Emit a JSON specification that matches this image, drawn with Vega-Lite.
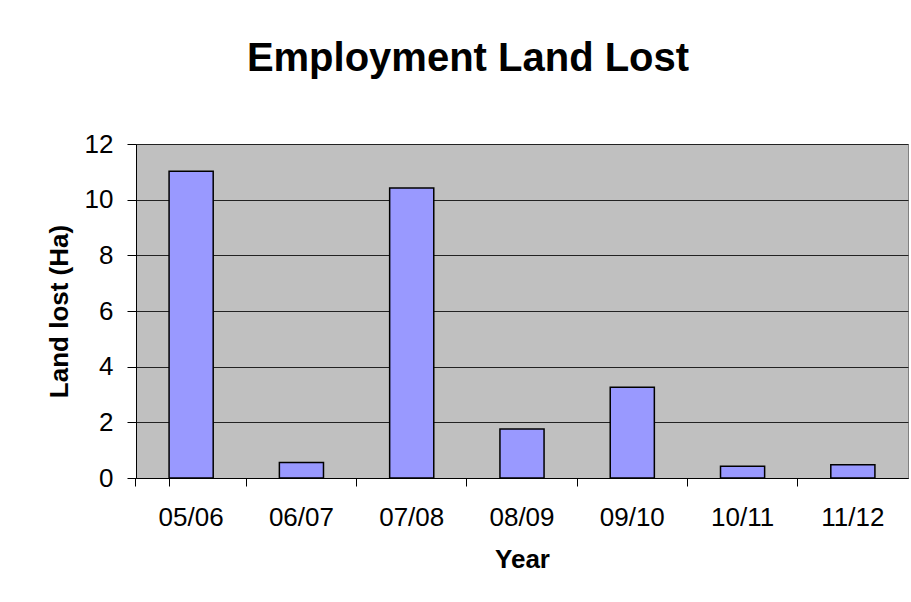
{
  "$schema": "https://vega.github.io/schema/vega-lite/v6.json",
  "autosize": "none",
  "width": 772,
  "height": 334,
  "padding": {"left": 136, "top": 144, "right": 3, "bottom": 124},
  "background": "white",
  "title": {
    "text": "Employment Land Lost",
    "font": "Liberation Sans",
    "fontSize": 40,
    "fontWeight": "bold",
    "color": "black",
    "anchor": "middle",
    "frame": "group",
    "dx": -54,
    "baseline": "alphabetic",
    "offset": 20
  },
  "config": {
    "view": {"fill": "#C0C0C0", "stroke": "#808080", "strokeWidth": 1},
    "axis": {
      "labelFont": "Liberation Sans",
      "titleFont": "Liberation Sans",
      "labelColor": "black",
      "titleColor": "black",
      "domainColor": "black",
      "tickColor": "black",
      "labelFontSize": 26,
      "titleFontSize": 26,
      "titleFontWeight": "bold"
    }
  },
  "data": {
    "values": [
      {"year": "05/06", "lost": 11.02},
      {"year": "06/07", "lost": 0.56},
      {"year": "07/08", "lost": 10.42},
      {"year": "08/09", "lost": 1.76},
      {"year": "09/10", "lost": 3.26},
      {"year": "10/11", "lost": 0.42},
      {"year": "11/12", "lost": 0.48}
    ]
  },
  "mark": {"type": "bar", "fill": "#9999FF", "stroke": "black", "strokeWidth": 1.5},
  "encoding": {
    "x": {
      "field": "year",
      "type": "nominal",
      "sort": null,
      "scale": {"paddingInner": 0.6, "paddingOuter": 0.3},
      "axis": {
        "title": "Year",
        "labelAngle": 0,
        "bandPosition": -0.75,
        "tickExtra": true,
        "tickSize": 8,
        "labelPadding": 18,
        "titlePadding": 16,
        "grid": false
      }
    },
    "y": {
      "field": "lost",
      "type": "quantitative",
      "scale": {"domain": [0, 12], "nice": false},
      "axis": {
        "title": "Land lost (Ha)",
        "values": [0, 2, 4, 6, 8, 10, 12],
        "tickSize": 9,
        "labelPadding": 14,
        "titlePadding": 12,
        "grid": true,
        "gridColor": "#222222",
        "gridWidth": 1.2
      }
    }
  }
}
